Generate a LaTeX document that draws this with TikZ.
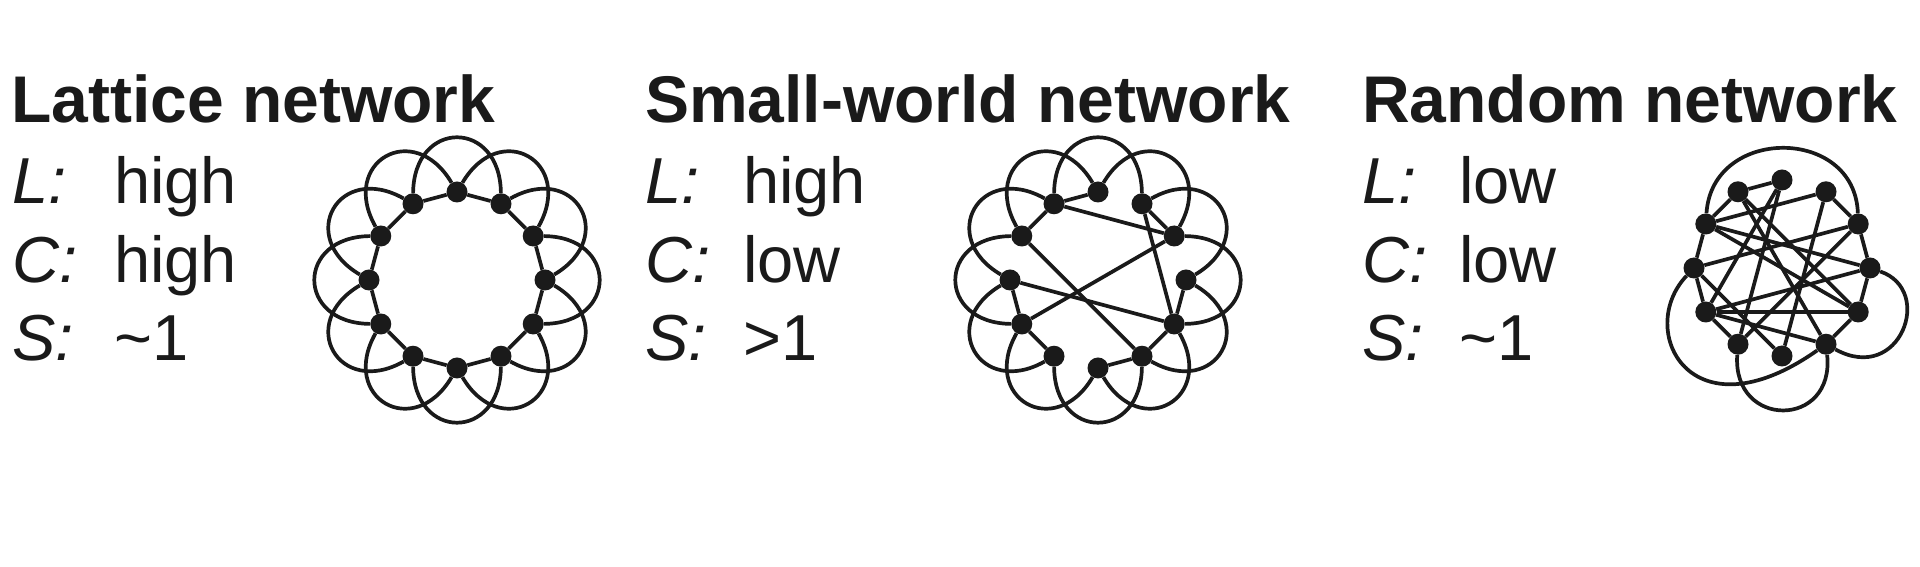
\documentclass[tikz,border=0pt]{standalone}
\usepackage{fontspec}
\setmainfont{Liberation Sans}
\usetikzlibrary{calc,backgrounds}
\definecolor{ink}{HTML}{1A1A1A}
\begin{document}
\begin{tikzpicture}[x=1pt,y=1pt,
  dot/.style={circle,fill=ink,draw=none,minimum size=21pt,inner sep=0pt},
  edge/.style={draw=ink,line width=3.7pt},
  ttl/.style={anchor=base west,inner sep=0pt,text=ink,font=\fontsize{66}{78}\selectfont\bfseries},
  lbl/.style={anchor=base west,inner sep=0pt,text=ink,font=\fontsize{65}{78}\selectfont\itshape},
  val/.style={anchor=base west,inner sep=0pt,text=ink,font=\fontsize{65}{78}\selectfont}]
\useasboundingbox (0,0) rectangle (1920,567);

% ---------- texts ----------
\node[ttl] (t1) at (11,444) {Lattice network};
\node[lbl] (l1a) at (12,363) {L:};  \node[val] (v1a) at (114,363) {high};
\node[lbl] (l1b) at (12,284) {C:};  \node[val] (v1b) at (114,284) {high};
\node[lbl] (l1c) at (12,206) {S:};  \node[val] (v1c) at (114,206) {\textasciitilde{}1};

\node[ttl] (t2) at (645,444) {Small-world network};
\node[lbl] (l2a) at (645,363) {L:};  \node[val] (v2a) at (743,363) {high};
\node[lbl] (l2b) at (645,284) {C:};  \node[val] (v2b) at (743,284) {low};
\node[lbl] (l2c) at (645,206) {S:};  \node[val] (v2c) at (743,206) {>1};

\node[ttl] (t3) at (1362,444) {Random network};
\node[lbl] (l3a) at (1362,363) {L:};  \node[val] (v3a) at (1459,363) {low};
\node[lbl] (l3b) at (1362,284) {C:};  \node[val] (v3b) at (1459,284) {low};
\node[lbl] (l3c) at (1362,206) {S:};  \node[val] (v3c) at (1459,206) {\textasciitilde{}1};

% ---------- centres ----------
\coordinate (LC) at (457,287);
\coordinate (WC) at (1098,287);
\coordinate (RC) at (1782,299);

% ---------- nodes ----------
\foreach \k in {0,...,11} {
  \node[dot] (L\k) at ($(LC)+({30*\k}:88)$) {};
  \node[dot] (W\k) at ($(WC)+({30*\k}:88)$) {};
  \node[dot] (R\k) at ($(RC)+({30*\k}:88)$) {};
}

\begin{pgfonlayer}{background}
\fill[white] (0,0) rectangle (1920,567);

% lattice: ring + second-neighbour loops; small-world keeps all loops
\foreach \k in {0,...,11} {
  \pgfmathtruncatemacro\nA{mod(\k+1,12)}
  \pgfmathtruncatemacro\nB{mod(\k+2,12)}
  \draw[edge] (L\k) -- (L\nA);
  \draw[edge] (L\k) .. controls ($(LC)+({30*\k+15}:167)$) and ($(LC)+({30*\k+45}:167)$) .. (L\nB);
  \draw[edge] (W\k) .. controls ($(WC)+({30*\k+15}:167)$) and ($(WC)+({30*\k+45}:167)$) .. (W\nB);
}

% small-world: remaining ring edges and shortcuts
\foreach \p/\q in {3/4,4/5,6/7,7/8,9/10,10/11,11/0,1/2,4/1,2/11,5/10,6/11,7/1}
  \draw[edge] (W\p) -- (W\q);

% random network
\foreach \p/\q in {3/4,4/5,5/6,6/7,7/8,1/0,0/11,11/10,2/1,2/5,2/9,4/11,4/10,3/8,3/7,1/6,1/8,5/11,5/0,0/7,7/11,7/10,6/9}
  \draw[edge] (R\p) -- (R\q);
\draw[edge] (R5) .. controls (1712,441) and (1855,441) .. (R1);
\draw[edge] (R6) .. controls (1635,237) and (1690,127) .. (R10);
\draw[edge] (R8) .. controls (1732,138) and (1835,138) .. (R10);
\draw[edge] (R0) .. controls (1935,277) and (1900,182) .. (R10);
\end{pgfonlayer}
\end{tikzpicture}
\end{document}
